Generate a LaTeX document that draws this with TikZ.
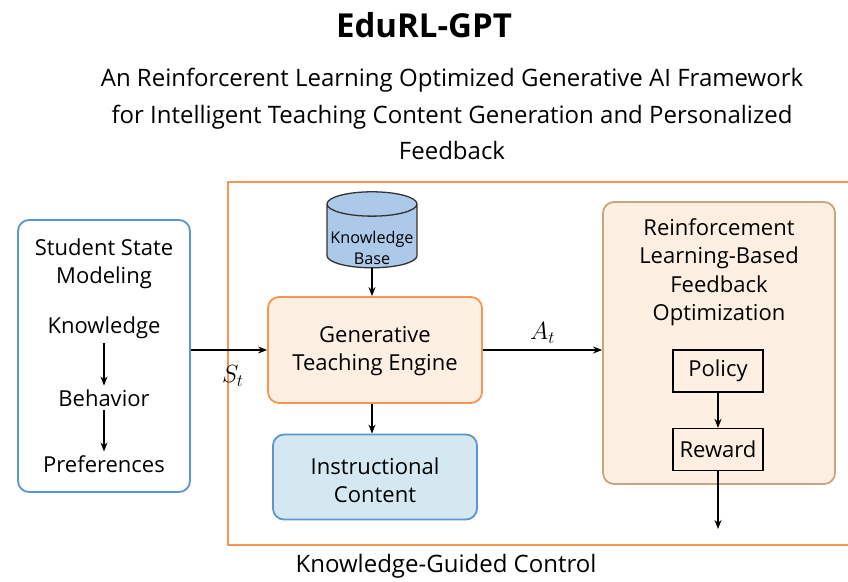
\documentclass[tikz,border=0pt]{standalone}
\usepackage{fontspec}
\setmainfont{Open Sans}
\usetikzlibrary{shapes.geometric,arrows.meta}
\definecolor{bluebd}{RGB}{91,150,208}
\definecolor{orangebd}{RGB}{247,150,80}
\definecolor{brownbd}{RGB}{200,165,128}
\definecolor{creamfill}{RGB}{253,240,227}
\definecolor{cyanfill}{RGB}{212,232,241}
\definecolor{dbfill}{RGB}{172,201,233}

\begin{document}
\begin{tikzpicture}[x=1pt,y=-1pt,>={Stealth[length=9pt,width=7pt]},
    line width=1.3pt,
    every node/.style={font=\fontsize{22}{28.5}\selectfont,align=center},
    box/.style={rounded corners=11pt,line width=1.8pt,inner sep=0pt},
    small/.style={draw,line width=1.3pt,inner sep=0pt,minimum width=90,
      minimum height=42}]
  \useasboundingbox (0,0) rectangle (848,581);
  \clip (0,0) rectangle (848,581);

  \node (title) at (424,25) [font=\fontsize{33}{38}\selectfont\bfseries] {EduRL-GPT};
  \node (sub) at (452,114) [font=\fontsize{24}{36.5}\selectfont] {An Reinforcerent Learning Optimized Generative AI Framework\\
    for Intelligent Teaching Content Generation and Personalized\\
    Feedback};

  % knowledge-guided control frame
  \draw[orangebd,line width=2.4pt] (228,182) rectangle (880,545);
  \node (ctrl) at (446,566) [font=\fontsize{24}{28}\selectfont] {Knowledge-Guided Control};

  % student state
  \node[box,draw=bluebd,fill=white,minimum width=172,minimum height=272]
    (stu) at (104,356) {};
  \node (stuT) at (104,264) {Student State\\Modeling};
  \node (know) at (104,328) {Knowledge};
  \node (behav) at (104,398) {Behavior};
  \node (pref) at (104,464) {Preferences};
  \draw[->] (know) -- (behav);
  \draw[->] (behav) -- (pref);

  % generative engine
  \node[cylinder,shape border rotate=90,aspect=0.28,draw=black!80,
    line width=1.3pt,fill=dbfill,minimum width=90,minimum height=76,
    inner sep=2pt,font=\fontsize{16.2}{21}\selectfont]
    (kb) at (372,238) {\phantom{Knowledge}\\\phantom{Base}};
  \node (kbT) at (372,248) [font=\fontsize{16.2}{21}\selectfont] {Knowledge\\Base};
  \node[box,draw=orangebd,fill=creamfill,minimum width=214,minimum height=106]
    (gen) at (375,350) {};
  \node (genT) at (375,351) {Generative\\Teaching Engine};
  \node[box,draw=bluebd,fill=cyanfill,minimum width=204,minimum height=85]
    (cont) at (375,477) {};
  \node (contT) at (375,480) {Instructional\\Content};
  \draw[->] (kb.south) -- (kb.south|-gen.north);
  \draw[->] (kb.south|-gen.south) -- (kb.south|-cont.north);

  % RL feedback
  \node[box,draw=brownbd,fill=creamfill,minimum width=232,minimum height=282]
    (rl) at (719,343) {};
  \node (rlT) at (719,272) {Reinforcement\\Learning-Based\\Feedback\\Optimization};
  \node[small] (pol) at (718,371) {Policy};
  \node[small] (rew) at (718,449.5) {Reward};
  \coordinate (out) at (718,529);
  \draw[->] (pol) -- (rew);
  \draw[->] (rew) -- (out);

  % state and action
  \draw[->] (stu.east|-gen) -- (gen) node[pos=0.55,below=12pt,font=\fontsize{26}{30}\selectfont] {$S_t$};
  \draw[->] (gen) -- (rl.west|-gen) node[midway,above=3pt,font=\fontsize{26}{30}\selectfont] {$A_t$};
\end{tikzpicture}
\end{document}
